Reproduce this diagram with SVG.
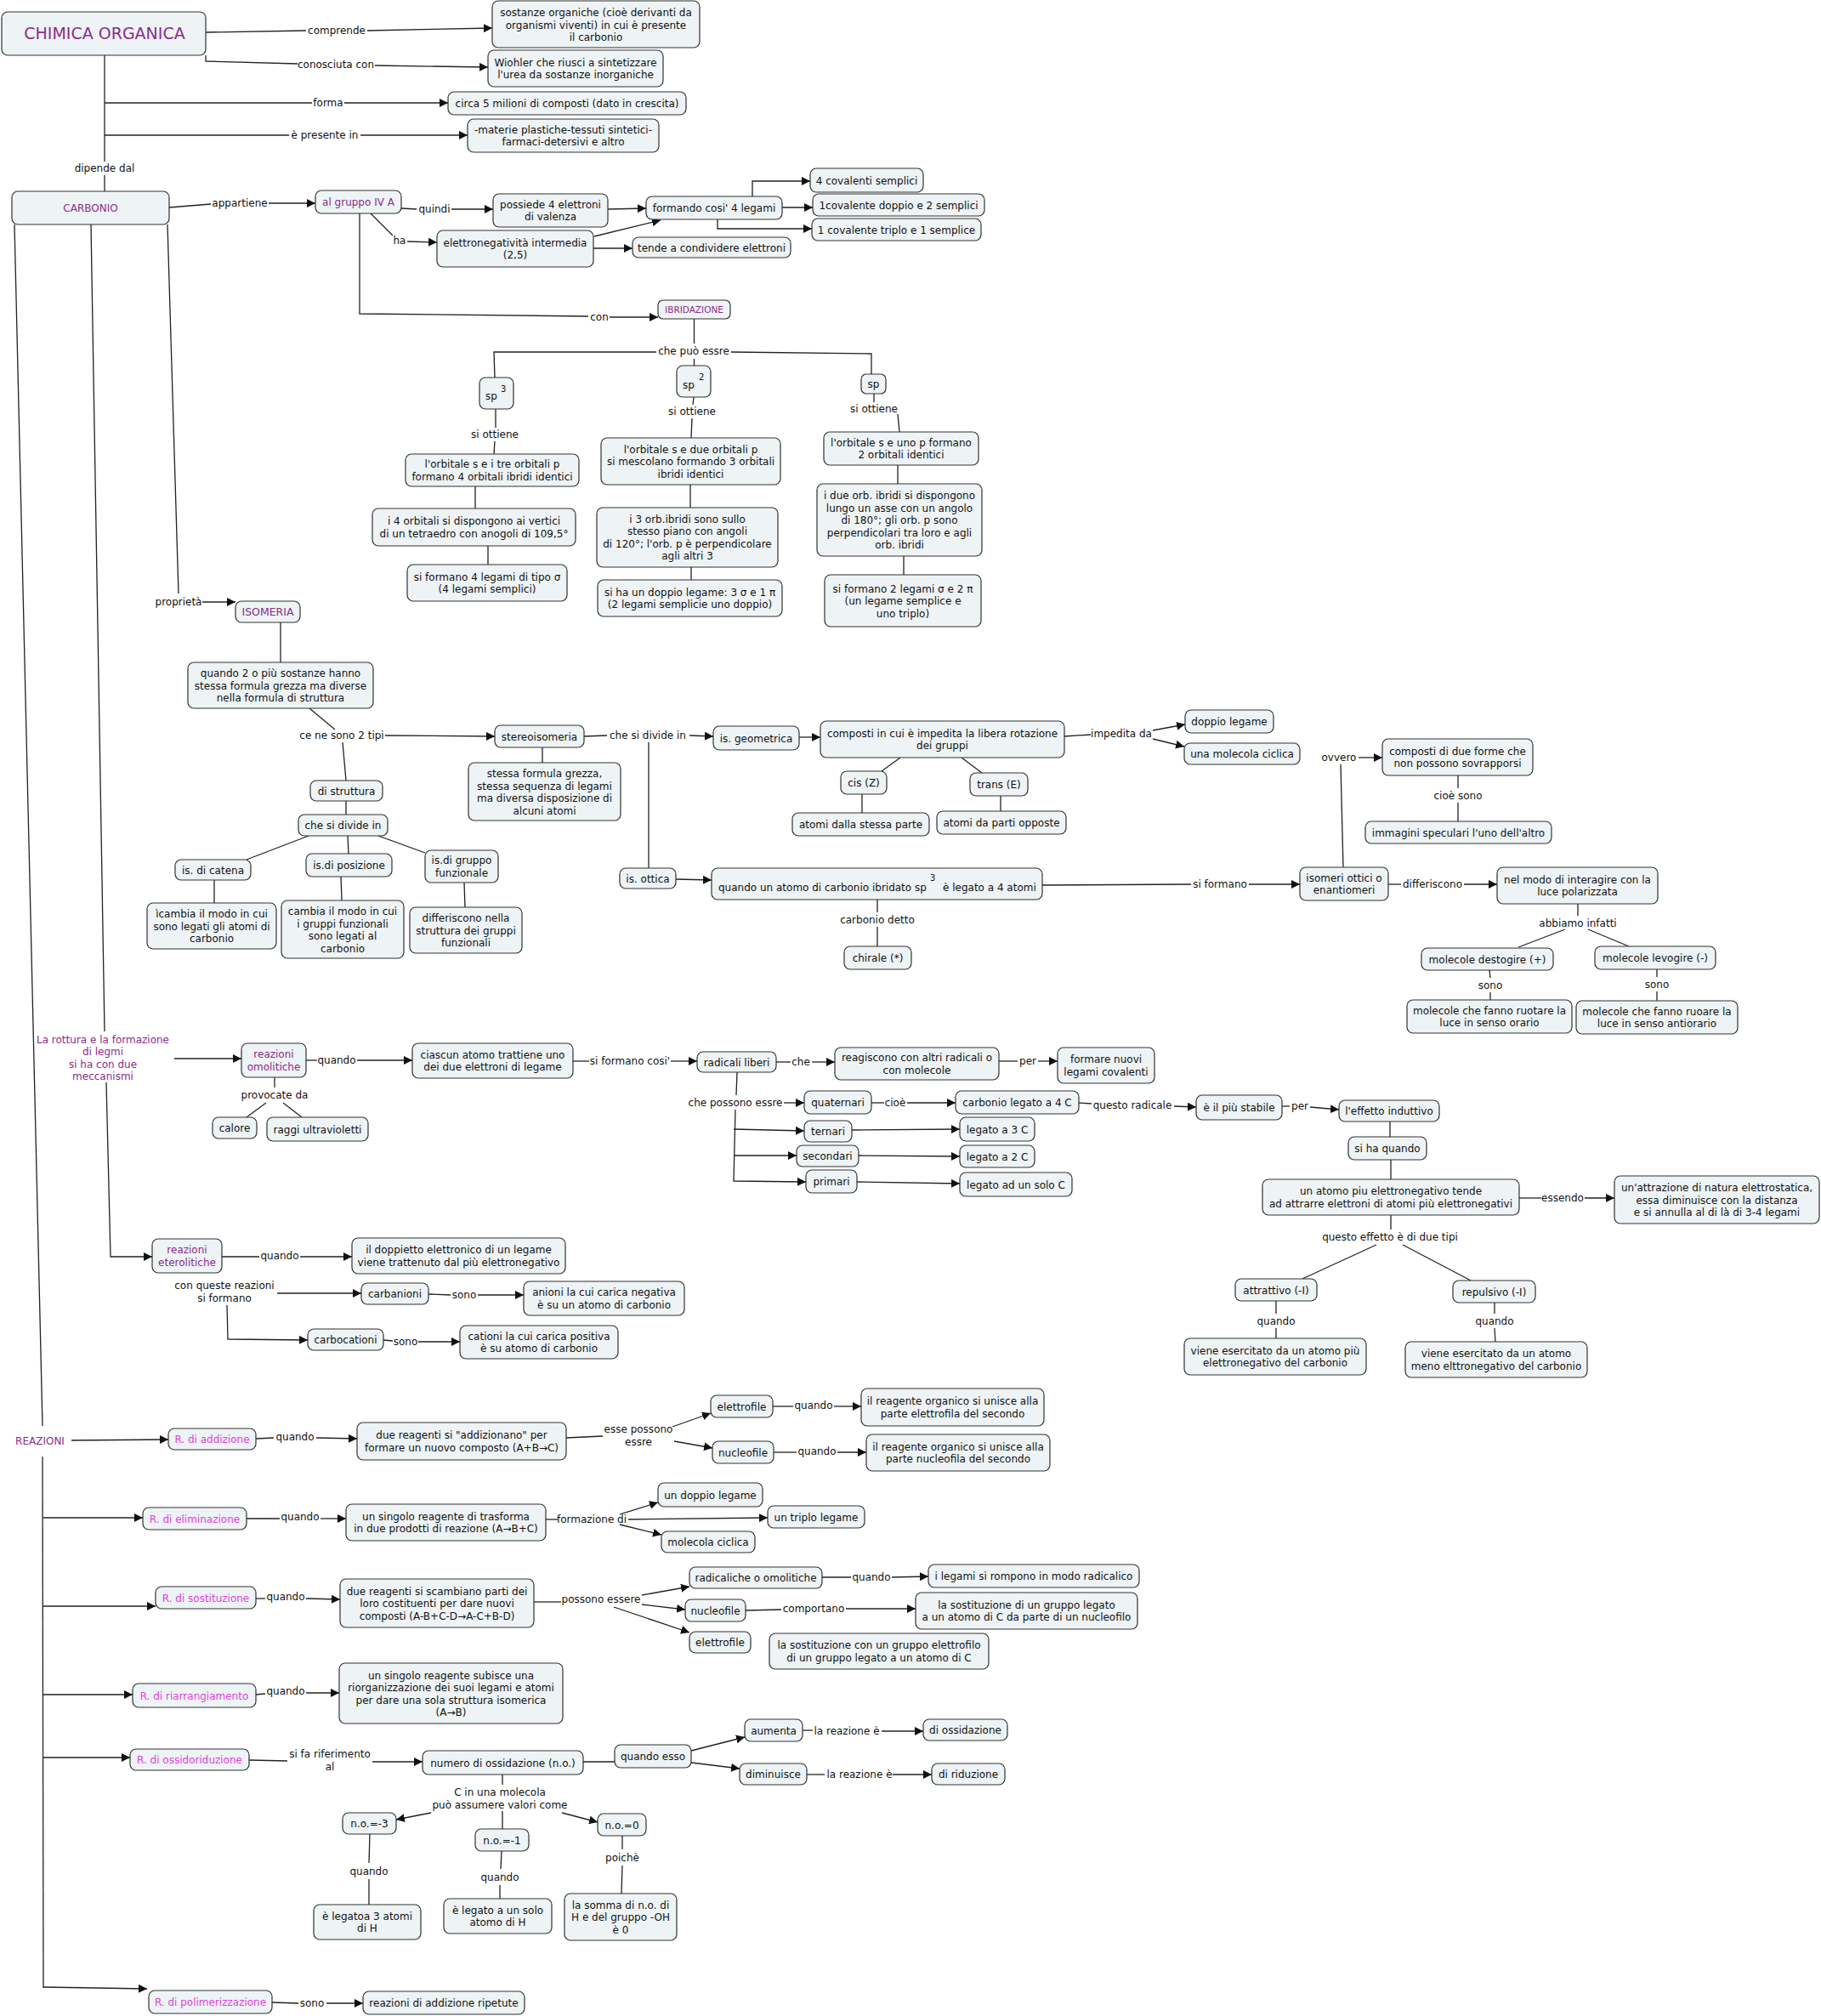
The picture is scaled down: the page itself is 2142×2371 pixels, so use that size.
<svg xmlns="http://www.w3.org/2000/svg" width="2142" height="2371" viewBox="0 0 2142 2371">
<defs>
<marker id="ah" markerWidth="10" markerHeight="10" viewBox="0 0 10 10" refX="10" refY="5" orient="auto" markerUnits="userSpaceOnUse"><path d="M0,0 L10,5 L0,10 z" fill="#111"/></marker>
</defs>
<style>
.n rect{fill:#eef3f5;stroke:#333;stroke-width:1.2}
text{font-family:"DejaVu Sans",Verdana,sans-serif;font-size:12px;fill:#111;text-anchor:middle}
.p{fill:#8b2c8b}
.m{fill:#e23ee2}
.s{font-size:10px;text-anchor:start}
.st{text-anchor:start}
#connectors path{fill:none;stroke:#222;stroke-width:1.3}
#connectors path.a{marker-end:url(#ah)}
</style>
<rect width="2142" height="2371" fill="#fff"/>
<g id="connectors">
<path d="M242,38 L360,36"/><path class="a" d="M432,36 L579,33"/><text x="396" y="40">comprende</text>
<path d="M242,65 L242,72 L350,75"/><path class="a" d="M441,77 L574,79"/><text x="395" y="80">conosciuta con</text>
<path d="M123,121 L367,121"/><path class="a" d="M405,121 L527,121"/><text x="386" y="125">forma</text>
<path d="M123,159 L340,159"/><path class="a" d="M424,159 L550,159"/><text x="382" y="163">è presente in</text>
<path d="M123,65 L123,190"/><path d="M123,206 L123,225"/><text x="123" y="202">dipende dal</text>
<path d="M199,244 L248,240"/><path class="a" d="M316,239 L371,239"/><text x="282" y="243">appartiene</text>
<path d="M472,245 L490,246"/><path class="a" d="M531,246 L580,246"/><text x="511" y="250">quindi</text>
<path class="a" d="M715,246 L760,245"/>
<path class="a" d="M885,231 L885,213 L953,213"/>
<path class="a" d="M920,244 L956,244"/>
<path class="a" d="M844,258 L844,269 L955,269"/>
<path d="M436,251 L462,277"/><path class="a" d="M479,284 L514,285"/><text x="470" y="287">ha</text>
<path class="a" d="M699,278 L777,259"/>
<path class="a" d="M698,292 L744,292"/>
<path d="M423,251 L423,369 L692,372"/><path class="a" d="M717,373 L774,373"/><text x="705" y="377">con</text>
<path d="M816.5,375 L816.5,404"/><path d="M772,414 L581,414 L582,444"/><path d="M860,414 L1025,416 L1025,440"/><path d="M816.5,422 L816.5,430"/><text x="816" y="417">che può essre</text>
<path d="M583,481 L583,503"/><path d="M582,519 L581,534"/><text x="582" y="515">si ottiene</text>
<path d="M559,572 L559,598"/>
<path d="M574,642 L574,664"/>
<path d="M816,467 L815,476"/><path d="M814,492 L813,515"/><text x="814" y="488">si ottiene</text>
<path d="M812,570 L812,597"/>
<path d="M813,667 L813,682"/>
<path d="M1028,463 L1028,473"/><path d="M1056,487 L1058,508"/><text x="1028" y="485">si ottiene</text>
<path d="M1056,547 L1056,569"/>
<path d="M1063,654 L1063,676"/>
<path d="M197,264 L210,698"/><path class="a" d="M238,708 L277,708"/><text x="210" y="712">proprietà</text>
<path d="M330,732 L330,779"/>
<path d="M364,833 L394,858"/><path class="a" d="M453,865 L582,866"/><path d="M403,873 L407,918"/><text x="402" y="869">ce ne sono 2 tipi</text>
<path d="M638,879 L638,897"/>
<path d="M407,942 L407,958"/>
<path d="M363,983 L290,1011"/><path d="M409,983 L410,1004"/><path d="M445,983 L500,1003"/>
<path d="M252,1035 L252,1062"/><path d="M401,1031 L402,1059"/><path d="M546,1038 L547,1067"/>
<path d="M687,866 L714,865"/><path class="a" d="M811,865 L839,866"/><path d="M763,873 L763,1021"/><text x="762" y="869">che si divide in</text>
<path class="a" d="M940,867 L965,867"/>
<path d="M1252,866 L1283,864"/><path class="a" d="M1356,859 L1394,852"/><path class="a" d="M1356,869 L1393,878"/><text x="1319" y="867">impedita da</text>
<path d="M1059,891 L1037,907"/><path d="M1131,891 L1155,909"/>
<path d="M1014,934 L1014,956"/><path d="M1177,936 L1177,954"/>
<path class="a" d="M795,1034 L837,1035"/>
<path d="M1226,1041 L1401,1040"/><path class="a" d="M1469,1040 L1529,1040"/><text x="1435" y="1044">si formano</text>
<path d="M1032,1058 L1032,1073"/><path d="M1032,1090 L1032,1113"/><text x="1032" y="1086">carbonio detto</text>
<path d="M1580,1020 L1577,899"/><path class="a" d="M1598,891 L1626,891"/><text x="1575" y="895">ovvero</text>
<path d="M1715,912 L1715,927"/><path d="M1715,944 L1715,966"/><text x="1715" y="940">cioè sono</text>
<path d="M1633,1040 L1648,1040"/><path class="a" d="M1722,1040 L1761,1040"/><text x="1685" y="1044">differiscono</text>
<path d="M1856,1063 L1856,1077"/><path d="M1841,1093 L1786,1114"/><path d="M1868,1093 L1916,1113"/><text x="1856" y="1090">abbiamo infatti</text>
<path d="M1752,1141 L1753,1150"/><path d="M1753,1167 L1753,1176"/><text x="1753" y="1163">sono</text>
<path d="M1949,1140 L1949,1149"/><path d="M1949,1166 L1949,1177"/><text x="1949" y="1162">sono</text>
<path d="M107,264 L123,1213"/>
<path class="a" d="M205,1245 L284,1245"/>
<path class="a" d="M125,1273 L130,1478 L179,1478"/>
<path d="M360,1247 L373,1247"/><path class="a" d="M420,1247 L485,1247"/><text x="396" y="1251">quando</text>
<path d="M674,1248 L693,1248"/><path class="a" d="M789,1248 L820,1248"/><text x="741" y="1252">si formano cosi'</text>
<path d="M913,1249 L930,1249"/><path class="a" d="M955,1249 L982,1249"/><text x="942" y="1253">che</text>
<path d="M1175,1248 L1197,1248"/><path class="a" d="M1221,1248 L1244,1248"/><text x="1209" y="1252">per</text>
<path d="M323,1267 L323,1279"/><path d="M313,1297 L290,1314"/><path d="M333,1297 L355,1314"/><text x="323" y="1292">provocate da</text>
<path d="M867,1261 L866,1288"/><path class="a" d="M922,1297 L946,1297"/><path class="a" d="M865,1305 L863,1389 L948,1390"/><path class="a" d="M863,1328 L946,1330"/><path class="a" d="M863,1359 L937,1359"/><text x="865" y="1301">che possono essre</text>
<path d="M1025,1297 L1040,1297"/><path class="a" d="M1067,1297 L1124,1297"/><text x="1053" y="1301">cioè</text>
<path d="M1269,1297 L1284,1298"/><path class="a" d="M1381,1301 L1407,1302"/><text x="1332" y="1304">questo radicale</text>
<path class="a" d="M1002,1329 L1129,1328"/>
<path class="a" d="M1010,1359 L1129,1360"/>
<path class="a" d="M1008,1390 L1129,1392"/>
<path d="M1508,1301 L1517,1301"/><path class="a" d="M1541,1302 L1575,1305"/><text x="1529" y="1305">per</text>
<path d="M1635,1319 L1635,1337"/>
<path d="M1636,1364 L1636,1387"/>
<path d="M1787,1409 L1813,1409"/><path class="a" d="M1864,1409 L1899,1409"/><text x="1838" y="1413">essendo</text>
<path d="M1636,1429 L1636,1446"/><path d="M1619,1464 L1532,1504"/><path d="M1650,1464 L1730,1506"/><text x="1635" y="1459">questo effetto è di due tipi</text>
<path d="M1501,1530 L1501,1545"/><path d="M1501,1562 L1501,1574"/><text x="1501" y="1558">quando</text>
<path d="M1758,1532 L1758,1545"/><path d="M1758,1562 L1759,1578"/><text x="1758" y="1558">quando</text>
<path d="M261,1478 L305,1478"/><path class="a" d="M353,1478 L414,1478"/><text x="329" y="1481">quando</text>
<path class="a" d="M326,1521 L425,1521"/><path class="a" d="M267,1535 L268,1575 L362,1576"/><text x="264" y="1516">con queste reazioni</text><text x="264" y="1531">si formano</text>
<path d="M504,1522 L530,1523"/><path class="a" d="M562,1523 L616,1523"/><text x="546" y="1527">sono</text>
<path d="M451,1576 L462,1577"/><path class="a" d="M492,1578 L541,1578"/><text x="477" y="1582">sono</text>
<path d="M17,264 L50,1677"/>
<path d="M50,1713 L51,2338"/>
<path class="a" d="M84,1694 L198,1693"/>
<path class="a" d="M51,1785 L168,1785"/>
<path class="a" d="M51,1889 L183,1889"/>
<path class="a" d="M51,1993 L156,1993"/>
<path class="a" d="M51,2067 L153,2067"/>
<path class="a" d="M51,2337 L173,2339"/>
<path d="M301,1692 L322,1691"/><path class="a" d="M372,1691 L420,1692"/><text x="347" y="1694">quando</text>
<path d="M666,1691 L709,1689"/><path class="a" d="M791,1678 L836,1662"/><path class="a" d="M793,1695 L838,1703"/><text x="751" y="1685">esse possono</text><text x="751" y="1700">essre</text>
<path d="M909,1654 L933,1654"/><path class="a" d="M981,1654 L1013,1654"/><text x="957" y="1657">quando</text>
<path d="M910,1708 L937,1708"/><path class="a" d="M985,1708 L1019,1708"/><text x="961" y="1711">quando</text>
<path d="M290,1786 L329,1786"/><path class="a" d="M377,1786 L407,1786"/><text x="353" y="1788">quando</text>
<path d="M642,1787 L656,1787"/><path class="a" d="M729,1781 L774,1767"/><path class="a" d="M739,1787 L903,1785"/><path class="a" d="M729,1793 L778,1805"/><text x="696" y="1791">formazione di</text>
<path d="M301,1880 L312,1880"/><path class="a" d="M360,1880 L400,1881"/><text x="336" y="1882">quando</text>
<path d="M628,1884 L660,1884"/><path class="a" d="M755,1876 L811,1866"/><path class="a" d="M755,1887 L806,1893"/><path class="a" d="M722,1890 L811,1920"/><text x="707" y="1885">possono essere</text>
<path d="M967,1855 L1001,1855"/><path class="a" d="M1049,1855 L1092,1854"/><text x="1025" y="1859">quando</text>
<path d="M877,1894 L919,1893"/><path class="a" d="M995,1892 L1077,1892"/><text x="957" y="1896">comportano</text>
<path d="M301,1993 L312,1992"/><path class="a" d="M360,1991 L399,1991"/><text x="336" y="1993">quando</text>
<path d="M293,2070 L338,2071"/><path class="a" d="M438,2072 L497,2072"/><text x="388" y="2067">si fa riferimento</text><text x="388" y="2082">al</text>
<path d="M686,2072 L723,2072"/>
<path class="a" d="M813,2059 L876,2043"/>
<path class="a" d="M813,2073 L870,2080"/>
<path d="M944,2035 L956,2035"/><path class="a" d="M1037,2036 L1086,2036"/><text x="996" y="2040">la reazione è</text>
<path d="M949,2087 L970,2087"/><path class="a" d="M1050,2087 L1096,2087"/><text x="1011" y="2091">la reazione è</text>
<path d="M591,2087 L591,2099"/><path class="a" d="M507,2132 L466,2140"/><path d="M591,2130 L591,2151"/><path class="a" d="M661,2132 L703,2143"/><text x="588" y="2112">C in una molecola</text><text x="588" y="2127">può assumere valori come</text>
<path d="M435,2157 L434,2191"/><path d="M434,2210 L434,2240"/><text x="434" y="2205">quando</text>
<path d="M590,2177 L589,2198"/><path d="M588,2217 L588,2233"/><text x="588" y="2212">quando</text>
<path d="M732,2159 L732,2175"/><path d="M732,2194 L731,2227"/><text x="732" y="2189">poichè</text>
<path d="M320,2355 L351,2356"/><path class="a" d="M384,2356 L427,2356"/><text x="367" y="2360">sono</text>
</g>
<g id="n-chimica" class="n"><rect x="2" y="14" width="240" height="51" rx="7"/><text class="p" x="123" y="46" style="font-size:19px">CHIMICA ORGANICA</text></g>
<g id="n-sostanze" class="n"><rect x="579" y="1" width="244" height="55" rx="7"/><text x="701"><tspan x="701" y="19">sostanze organiche (cioè derivanti da</tspan><tspan x="701" y="33.5">organismi viventi) in cui è presente</tspan><tspan x="701" y="48">il carbonio</tspan></text></g>
<g id="n-wiohler" class="n"><rect x="574" y="59" width="206" height="43" rx="7"/><text><tspan x="677" y="77.5">Wiohler che riusci a sintetizzare</tspan><tspan x="677" y="92">l'urea da sostanze inorganiche</tspan></text></g>
<g id="n-circa" class="n"><rect x="527" y="108" width="280" height="27" rx="7"/><text x="667" y="126">circa 5 milioni di composti (dato in crescita)</text></g>
<g id="n-materie" class="n"><rect x="550" y="140" width="225" height="39" rx="7"/><text><tspan x="662.5" y="156.5">-materie plastiche-tessuti sintetici-</tspan><tspan x="662.5" y="171">farmaci-detersivi e altro</tspan></text></g>
<g id="n-carbonio" class="n"><rect x="14" y="225" width="185" height="39" rx="7"/><text class="p" x="106.5" y="249">CARBONIO</text></g>
<g id="n-gruppo" class="n"><rect x="371" y="224" width="101" height="27" rx="7"/><text class="p" x="421.5" y="242">al gruppo IV A</text></g>
<g id="n-possiede" class="n"><rect x="580" y="228" width="135" height="39" rx="7"/><text><tspan x="647.5" y="244.5">possiede 4 elettroni</tspan><tspan x="647.5" y="259">di valenza</tspan></text></g>
<g id="n-formando" class="n"><rect x="760" y="231" width="160" height="27" rx="7"/><text x="840" y="249">formando cosi' 4 legami</text></g>
<g id="n-4cov" class="n"><rect x="953" y="198" width="133" height="28" rx="7"/><text x="1019.5" y="216.5">4 covalenti semplici</text></g>
<g id="n-doppio" class="n"><rect x="956" y="228" width="202" height="26" rx="7"/><text x="1057" y="245.5">1covalente doppio e 2 semplici</text></g>
<g id="n-triplo" class="n"><rect x="955" y="257" width="199" height="26" rx="7"/><text x="1054.5" y="274.5">1 covalente triplo e 1 semplice</text></g>
<g id="n-elettroneg" class="n"><rect x="514" y="271" width="184" height="43" rx="7"/><text><tspan x="606" y="289.5">elettronegatività intermedia</tspan><tspan x="606" y="304">(2,5)</tspan></text></g>
<g id="n-tende" class="n"><rect x="744" y="279" width="186" height="24" rx="7"/><text x="837" y="295.5">tende a condividere elettroni</text></g>
<g id="n-ibridazione" class="n"><rect x="774" y="353" width="85" height="22" rx="6"/><text class="p" x="816.5" y="368" style="font-size:10.5px">IBRIDAZIONE</text></g>
<g id="n-sp3" class="n"><rect x="564" y="444" width="40" height="37" rx="7"/><text x="578" y="470">sp</text><text class="s" x="589" y="461">3</text></g>
<g id="n-sp2" class="n"><rect x="796" y="430" width="40" height="37" rx="7"/><text x="810" y="457">sp</text><text class="s" x="822" y="447">2</text></g>
<g id="n-sp" class="n"><rect x="1013" y="440" width="29" height="23" rx="6"/><text x="1027.5" y="456">sp</text></g>
<g id="n-sp3-1" class="n"><rect x="477" y="534" width="204" height="38" rx="7"/><text><tspan x="579" y="550">l'orbitale s e i tre orbitali p</tspan><tspan x="579" y="564.5">formano 4 orbitali ibridi identici</tspan></text></g>
<g id="n-sp3-2" class="n"><rect x="438" y="598" width="239" height="44" rx="7"/><text><tspan x="557.5" y="617">i 4 orbitali si dispongono ai vertici</tspan><tspan x="557.5" y="631.5">di un tetraedro con anogoli di 109,5°</tspan></text></g>
<g id="n-sp3-3" class="n"><rect x="479" y="664" width="188" height="43" rx="7"/><text><tspan x="573" y="682.5">si formano 4 legami di tipo σ</tspan><tspan x="573" y="697">(4 legami semplici)</tspan></text></g>
<g id="n-sp2-1" class="n"><rect x="707" y="515" width="211" height="55" rx="7"/><text><tspan x="812.5" y="532.5">l'orbitale s e due orbitali p</tspan><tspan x="812.5" y="547">si mescolano formando 3 orbitali</tspan><tspan x="812.5" y="561.5">ibridi identici</tspan></text></g>
<g id="n-sp2-2" class="n"><rect x="702" y="597" width="213" height="70" rx="7"/><text><tspan x="808.5" y="614.5">i 3 orb.ibridi sono sullo</tspan><tspan x="808.5" y="629">stesso piano con angoli</tspan><tspan x="808.5" y="643.5">di 120°; l'orb. p è perpendicolare</tspan><tspan x="808.5" y="658">agli altri 3</tspan></text></g>
<g id="n-sp2-3" class="n"><rect x="703" y="682" width="217" height="43" rx="7"/><text><tspan x="811.5" y="700.5">si ha un doppio legame: 3 σ e 1 π</tspan><tspan x="811.5" y="715">(2 legami semplicie uno doppio)</tspan></text></g>
<g id="n-sp-1" class="n"><rect x="969" y="508" width="182" height="39" rx="7"/><text><tspan x="1060" y="524.5">l'orbitale s e uno p formano</tspan><tspan x="1060" y="539">2 orbitali identici</tspan></text></g>
<g id="n-sp-2" class="n"><rect x="961" y="569" width="194" height="85" rx="7"/><text><tspan x="1058" y="587">i due orb. ibridi si dispongono</tspan><tspan x="1058" y="601.5">lungo un asse con un angolo</tspan><tspan x="1058" y="616">di 180°; gli orb. p sono</tspan><tspan x="1058" y="630.5">perpendicolari tra loro e agli</tspan><tspan x="1058" y="645">orb. ibridi</tspan></text></g>
<g id="n-sp-3" class="n"><rect x="970" y="676" width="184" height="61" rx="7"/><text><tspan x="1062" y="696.5">si formano 2 legami σ e 2 π</tspan><tspan x="1062" y="711">(un legame semplice e</tspan><tspan x="1062" y="725.5">uno triplo)</tspan></text></g>
<g id="n-isomeria" class="n"><rect x="277" y="707" width="76" height="25" rx="7"/><text class="p" x="315" y="724" style="font-size:12.5px">ISOMERIA</text></g>
<g id="n-quando2" class="n"><rect x="221" y="779" width="218" height="54" rx="7"/><text><tspan x="330" y="796">quando 2 o più sostanze hanno</tspan><tspan x="330" y="810.5">stessa formula grezza ma diverse</tspan><tspan x="330" y="825">nella formula di struttura</tspan></text></g>
<g id="n-stereo" class="n"><rect x="582" y="853" width="105" height="26" rx="7"/><text x="634.5" y="870.5">stereoisomeria</text></g>
<g id="n-stereo-def" class="n"><rect x="551" y="897" width="179" height="68" rx="7"/><text><tspan x="640.5" y="914">stessa formula grezza,</tspan><tspan x="640.5" y="928.5">stessa sequenza di legami</tspan><tspan x="640.5" y="943">ma diversa disposizione di</tspan><tspan x="640.5" y="957.5">alcuni atomi</tspan></text></g>
<g id="n-distruttura" class="n"><rect x="365" y="918" width="85" height="24" rx="7"/><text x="407.5" y="934.5">di struttura</text></g>
<g id="n-chesidivide" class="n"><rect x="351" y="958" width="105" height="25" rx="7"/><text x="403.5" y="975">che si divide in</text></g>
<g id="n-catena" class="n"><rect x="206" y="1011" width="89" height="24" rx="7"/><text x="250.5" y="1027.5">is. di catena</text></g>
<g id="n-posizione" class="n"><rect x="360" y="1004" width="101" height="27" rx="7"/><text x="410.5" y="1022">is.di posizione</text></g>
<g id="n-gruppofunz" class="n"><rect x="500" y="1000" width="86" height="38" rx="7"/><text><tspan x="543" y="1016">is.di gruppo</tspan><tspan x="543" y="1030.5">funzionale</tspan></text></g>
<g id="n-catena-def" class="n"><rect x="173" y="1062" width="152" height="54" rx="7"/><text><tspan x="249" y="1079">ìcambia il modo in cui</tspan><tspan x="249" y="1093.5">sono legati gli atomi di</tspan><tspan x="249" y="1108">carbonio</tspan></text></g>
<g id="n-posizione-def" class="n"><rect x="331" y="1059" width="144" height="68" rx="7"/><text><tspan x="403" y="1076">cambia il modo in cui</tspan><tspan x="403" y="1090.5">i gruppi funzionali</tspan><tspan x="403" y="1105">sono legati al</tspan><tspan x="403" y="1119.5">carbonio</tspan></text></g>
<g id="n-gruppofunz-def" class="n"><rect x="482" y="1067" width="132" height="54" rx="7"/><text><tspan x="548" y="1084">differiscono nella</tspan><tspan x="548" y="1098.5">struttura dei gruppi</tspan><tspan x="548" y="1113">funzionali</tspan></text></g>
<g id="n-isgeo" class="n"><rect x="839" y="854" width="101" height="28" rx="7"/><text x="889.5" y="872.5">is. geometrica</text></g>
<g id="n-composti" class="n"><rect x="965" y="848" width="287" height="43" rx="7"/><text><tspan x="1108.5" y="866.5">composti in cui è impedita la libera rotazione</tspan><tspan x="1108.5" y="881">dei gruppi</tspan></text></g>
<g id="n-doppiolegame" class="n"><rect x="1394" y="835" width="104" height="27" rx="7"/><text x="1446" y="853">doppio legame</text></g>
<g id="n-molciclica" class="n"><rect x="1393" y="874" width="136" height="25" rx="7"/><text x="1461" y="891">una molecola ciclica</text></g>
<g id="n-cis" class="n"><rect x="989" y="907" width="54" height="27" rx="7"/><text x="1016" y="925">cis (Z)</text></g>
<g id="n-trans" class="n"><rect x="1141" y="909" width="68" height="27" rx="7"/><text x="1175" y="927">trans (E)</text></g>
<g id="n-stessaparte" class="n"><rect x="932" y="956" width="161" height="27" rx="7"/><text x="1012.5" y="974">atomi dalla stessa parte</text></g>
<g id="n-partiopposte" class="n"><rect x="1102" y="954" width="152" height="27" rx="7"/><text x="1178" y="972">atomi da parti opposte</text></g>
<g id="n-isottica" class="n"><rect x="729" y="1021" width="66" height="24" rx="7"/><text x="762" y="1037.5">is. ottica</text></g>
<g id="n-quandoatomo" class="n"><rect x="837" y="1021" width="389" height="37" rx="7"/><text class="st" x="845" y="1047.5">quando un atomo di carbonio ibridato sp</text><text class="s" x="1094" y="1035.5">3</text><text class="st" x="1109" y="1047.5">è legato a 4 atomi</text></g>
<g id="n-chirale" class="n"><rect x="993" y="1113" width="79" height="27" rx="7"/><text x="1032.5" y="1131">chirale (*)</text></g>
<g id="n-duforme" class="n"><rect x="1626" y="869" width="177" height="43" rx="7"/><text><tspan x="1714.5" y="887.5">composti di due forme che</tspan><tspan x="1714.5" y="902">non possono sovrapporsi</tspan></text></g>
<g id="n-immagini" class="n"><rect x="1606" y="966" width="219" height="26" rx="7"/><text x="1715.5" y="983.5">immagini speculari l'uno dell'altro</text></g>
<g id="n-isomeri" class="n"><rect x="1529" y="1020" width="104" height="39" rx="7"/><text><tspan x="1581" y="1036.5">isomeri ottici o</tspan><tspan x="1581" y="1051">enantiomeri</tspan></text></g>
<g id="n-nelmodo" class="n"><rect x="1761" y="1020" width="189" height="43" rx="7"/><text><tspan x="1855.5" y="1038.5">nel modo di interagire con la</tspan><tspan x="1855.5" y="1053">luce polarizzata</tspan></text></g>
<g id="n-destogire" class="n"><rect x="1672" y="1115" width="155" height="26" rx="7"/><text x="1749.5" y="1132.5">molecole destogire (+)</text></g>
<g id="n-levogire" class="n"><rect x="1876" y="1113" width="142" height="27" rx="7"/><text x="1947" y="1131">molecole levogire (-)</text></g>
<g id="n-orario" class="n"><rect x="1655" y="1176" width="194" height="39" rx="7"/><text><tspan x="1752" y="1192.5">molecole che fanno ruotare la</tspan><tspan x="1752" y="1207">luce in senso orario</tspan></text></g>
<g id="n-antiorario" class="n"><rect x="1854" y="1177" width="190" height="39" rx="7"/><text><tspan x="1949" y="1193.5">molecole che fanno ruoare la</tspan><tspan x="1949" y="1208">luce in senso antiorario</tspan></text></g>
<g id="n-rottura"><text class="p"><tspan x="121" y="1226.5">La rottura e la formazione</tspan><tspan x="121" y="1241">di legmi</tspan><tspan x="121" y="1255.5">si ha con due</tspan><tspan x="121" y="1270">meccanismi</tspan></text></g>
<g id="n-omolitiche" class="n"><rect x="284" y="1227" width="76" height="40" rx="7"/><text class="p"><tspan x="322" y="1244">reazioni</tspan><tspan x="322" y="1258.5">omolitiche</tspan></text></g>
<g id="n-ciascun" class="n"><rect x="485" y="1227" width="189" height="41" rx="7"/><text><tspan x="579.5" y="1244.5">ciascun atomo trattiene uno</tspan><tspan x="579.5" y="1259">dei due elettroni di legame</tspan></text></g>
<g id="n-radicali" class="n"><rect x="820" y="1237" width="93" height="24" rx="7"/><text x="866.5" y="1253.5">radicali liberi</text></g>
<g id="n-reagiscono" class="n"><rect x="982" y="1232" width="193" height="38" rx="7"/><text><tspan x="1078.5" y="1248">reagiscono con altri radicali o</tspan><tspan x="1078.5" y="1262.5">con molecole</tspan></text></g>
<g id="n-formarenuovi" class="n"><rect x="1244" y="1232" width="114" height="42" rx="7"/><text><tspan x="1301" y="1250">formare nuovi</tspan><tspan x="1301" y="1264.5">legami covalenti</tspan></text></g>
<g id="n-calore" class="n"><rect x="250" y="1314" width="52" height="25" rx="7"/><text x="276" y="1331">calore</text></g>
<g id="n-raggi" class="n"><rect x="314" y="1314" width="119" height="28" rx="7"/><text x="373.5" y="1332.5">raggi ultravioletti</text></g>
<g id="n-quaternari" class="n"><rect x="946" y="1283" width="79" height="27" rx="7"/><text x="985.5" y="1301">quaternari</text></g>
<g id="n-carb4c" class="n"><rect x="1124" y="1283" width="145" height="27" rx="7"/><text x="1196.5" y="1301">carbonio legato a 4 C</text></g>
<g id="n-ternari" class="n"><rect x="946" y="1318" width="56" height="25" rx="7"/><text x="974" y="1335">ternari</text></g>
<g id="n-leg3c" class="n"><rect x="1129" y="1314" width="88" height="28" rx="7"/><text x="1173" y="1332.5">legato a 3 C</text></g>
<g id="n-secondari" class="n"><rect x="937" y="1347" width="73" height="25" rx="7"/><text x="973.5" y="1364">secondari</text></g>
<g id="n-leg2c" class="n"><rect x="1129" y="1347" width="88" height="26" rx="7"/><text x="1173" y="1364.5">legato a 2 C</text></g>
<g id="n-primari" class="n"><rect x="948" y="1376" width="60" height="27" rx="7"/><text x="978" y="1394">primari</text></g>
<g id="n-leg1c" class="n"><rect x="1129" y="1379" width="132" height="28" rx="7"/><text x="1195" y="1397.5">legato ad un solo C</text></g>
<g id="n-piustabile" class="n"><rect x="1407" y="1288" width="101" height="29" rx="7"/><text x="1457.5" y="1307">è il più stabile</text></g>
<g id="n-effetto" class="n"><rect x="1575" y="1294" width="118" height="25" rx="7"/><text x="1634" y="1311">l'effetto induttivo</text></g>
<g id="n-siha" class="n"><rect x="1586" y="1337" width="92" height="27" rx="7"/><text x="1632" y="1355">si ha quando</text></g>
<g id="n-unatomo" class="n"><rect x="1485" y="1387" width="302" height="42" rx="7"/><text><tspan x="1636" y="1405">un atomo piu elettronegativo tende</tspan><tspan x="1636" y="1419.5">ad attrarre elettroni di atomi più elettronegativi</tspan></text></g>
<g id="n-attrazione" class="n"><rect x="1899" y="1383" width="241" height="56" rx="7"/><text><tspan x="2019.5" y="1401">un'attrazione di natura elettrostatica,</tspan><tspan x="2019.5" y="1415.5">essa diminuisce con la distanza</tspan><tspan x="2019.5" y="1430">e si annulla al di là di 3-4 legami</tspan></text></g>
<g id="n-attrattivo" class="n"><rect x="1453" y="1504" width="96" height="26" rx="7"/><text x="1501" y="1521.5">attrattivo (-I)</text></g>
<g id="n-repulsivo" class="n"><rect x="1709" y="1506" width="97" height="26" rx="7"/><text x="1757.5" y="1523.5">repulsivo (-I)</text></g>
<g id="n-vieneA" class="n"><rect x="1393" y="1574" width="214" height="43" rx="7"/><text><tspan x="1500" y="1592.5">viene esercitato da un atomo più</tspan><tspan x="1500" y="1607">elettronegativo del carbonio</tspan></text></g>
<g id="n-vieneR" class="n"><rect x="1653" y="1578" width="214" height="42" rx="7"/><text><tspan x="1760" y="1596">viene esercitato da un atomo</tspan><tspan x="1760" y="1610.5">meno elttronegativo del carbonio</tspan></text></g>
<g id="n-eterolitiche" class="n"><rect x="179" y="1457" width="82" height="40" rx="7"/><text class="p"><tspan x="220" y="1474">reazioni</tspan><tspan x="220" y="1488.5">eterolitiche</tspan></text></g>
<g id="n-doppietto" class="n"><rect x="414" y="1456" width="251" height="42" rx="7"/><text><tspan x="539.5" y="1474">il doppietto elettronico di un legame</tspan><tspan x="539.5" y="1488.5">viene trattenuto dal più elettronegativo</tspan></text></g>
<g id="n-carbanioni" class="n"><rect x="425" y="1509" width="79" height="25" rx="7"/><text x="464.5" y="1526">carbanioni</text></g>
<g id="n-anioni" class="n"><rect x="616" y="1507" width="189" height="40" rx="7"/><text><tspan x="710.5" y="1524">anioni la cui carica negativa</tspan><tspan x="710.5" y="1538.5">è su un atomo di carbonio</tspan></text></g>
<g id="n-carbocationi" class="n"><rect x="362" y="1563" width="89" height="25" rx="7"/><text x="406.5" y="1580">carbocationi</text></g>
<g id="n-cationi" class="n"><rect x="541" y="1559" width="186" height="39" rx="7"/><text><tspan x="634" y="1575.5">cationi la cui carica positiva</tspan><tspan x="634" y="1590">è su atomo di carbonio</tspan></text></g>
<g id="n-reazioni"><text class="p" x="47" y="1699">REAZIONI</text></g>
<g id="n-addizione" class="n"><rect x="198" y="1680" width="103" height="25" rx="7"/><text class="m" x="249.5" y="1697">R. di addizione</text></g>
<g id="n-dueaddiz" class="n"><rect x="420" y="1673" width="246" height="44" rx="7"/><text><tspan x="543" y="1692">due reagenti si "addizionano" per</tspan><tspan x="543" y="1706.5">formare un nuovo composto (A+B→C)</tspan></text></g>
<g id="n-elettrofileA" class="n"><rect x="836" y="1641" width="73" height="26" rx="7"/><text x="872.5" y="1658.5">elettrofile</text></g>
<g id="n-reagE" class="n"><rect x="1013" y="1633" width="215" height="44" rx="7"/><text><tspan x="1120.5" y="1652">il reagente organico si unisce alla</tspan><tspan x="1120.5" y="1666.5">parte elettrofila del secondo</tspan></text></g>
<g id="n-nucleofileA" class="n"><rect x="838" y="1695" width="72" height="26" rx="7"/><text x="874" y="1712.5">nucleofile</text></g>
<g id="n-reagN" class="n"><rect x="1019" y="1687" width="216" height="43" rx="7"/><text><tspan x="1127" y="1705.5">il reagente organico si unisce alla</tspan><tspan x="1127" y="1720">parte nucleofila del secondo</tspan></text></g>
<g id="n-eliminazione" class="n"><rect x="168" y="1773" width="122" height="26" rx="7"/><text class="m" x="229" y="1790.5">R. di eliminazione</text></g>
<g id="n-singolotras" class="n"><rect x="407" y="1769" width="235" height="43" rx="7"/><text><tspan x="524.5" y="1787.5">un singolo reagente di trasforma</tspan><tspan x="524.5" y="1802">in due prodotti di reazione (A→B+C)</tspan></text></g>
<g id="n-undoppio" class="n"><rect x="774" y="1744" width="123" height="28" rx="7"/><text x="835.5" y="1762.5">un doppio legame</text></g>
<g id="n-untriplo" class="n"><rect x="903" y="1771" width="114" height="26" rx="7"/><text x="960" y="1788.5">un triplo legame</text></g>
<g id="n-molecolaciclica" class="n"><rect x="778" y="1801" width="110" height="25" rx="7"/><text x="833" y="1818">molecola ciclica</text></g>
<g id="n-sostituzione" class="n"><rect x="183" y="1866" width="118" height="26" rx="7"/><text class="m" x="242" y="1883.5">R. di sostituzione</text></g>
<g id="n-duescamb" class="n"><rect x="400" y="1857" width="228" height="57" rx="7"/><text><tspan x="514" y="1875.5">due reagenti si scambiano parti dei</tspan><tspan x="514" y="1890">loro costituenti per dare nuovi</tspan><tspan x="514" y="1904.5">composti (A-B+C-D→A-C+B-D)</tspan></text></g>
<g id="n-radicaliche" class="n"><rect x="811" y="1843" width="156" height="25" rx="7"/><text x="889" y="1860">radicaliche o omolitiche</text></g>
<g id="n-ilegami" class="n"><rect x="1092" y="1840" width="248" height="27" rx="7"/><text x="1216" y="1858">i legami si rompono in modo radicalico</text></g>
<g id="n-nucleofileS" class="n"><rect x="806" y="1881" width="71" height="26" rx="7"/><text x="841.5" y="1898.5">nucleofile</text></g>
<g id="n-sostnucl" class="n"><rect x="1077" y="1873" width="261" height="43" rx="7"/><text><tspan x="1207.5" y="1891.5">la sostituzione di un gruppo legato</tspan><tspan x="1207.5" y="1906">a un atomo di C da parte di un nucleofilo</tspan></text></g>
<g id="n-elettrofileS" class="n"><rect x="811" y="1919" width="72" height="25" rx="7"/><text x="847" y="1936">elettrofile</text></g>
<g id="n-sostelettr" class="n"><rect x="905" y="1921" width="258" height="42" rx="7"/><text><tspan x="1034" y="1939">la sostituzione con un gruppo elettrofilo</tspan><tspan x="1034" y="1953.5">di un gruppo legato a un atomo di C</tspan></text></g>
<g id="n-riarrangiamento" class="n"><rect x="156" y="1980" width="145" height="28" rx="7"/><text class="m" x="228.5" y="1998.5">R. di riarrangiamento</text></g>
<g id="n-singolosub" class="n"><rect x="399" y="1956" width="263" height="71" rx="7"/><text><tspan x="530.5" y="1974.5">un singolo reagente subisce una</tspan><tspan x="530.5" y="1989">riorganizzazione dei suoi legami e atomi</tspan><tspan x="530.5" y="2003.5">per dare una sola struttura isomerica</tspan><tspan x="530.5" y="2018">(A→B)</tspan></text></g>
<g id="n-ossidoriduzione" class="n"><rect x="153" y="2057" width="140" height="25" rx="7"/><text class="m" x="223" y="2074">R. di ossidoriduzione</text></g>
<g id="n-numero" class="n"><rect x="497" y="2059" width="189" height="28" rx="7"/><text x="591.5" y="2077.5">numero di ossidazione (n.o.)</text></g>
<g id="n-quandoesso" class="n"><rect x="723" y="2052" width="90" height="27" rx="7"/><text x="768" y="2070">quando esso</text></g>
<g id="n-aumenta" class="n"><rect x="876" y="2022" width="68" height="26" rx="7"/><text x="910" y="2039.5">aumenta</text></g>
<g id="n-diossidazione" class="n"><rect x="1086" y="2022" width="99" height="25" rx="7"/><text x="1135.5" y="2039">di ossidazione</text></g>
<g id="n-diminuisce" class="n"><rect x="870" y="2074" width="79" height="25" rx="7"/><text x="909.5" y="2091">diminuisce</text></g>
<g id="n-diriduzione" class="n"><rect x="1096" y="2074" width="86" height="25" rx="7"/><text x="1139" y="2091">di riduzione</text></g>
<g id="n-no3" class="n"><rect x="403" y="2132" width="63" height="25" rx="7"/><text x="434.5" y="2149">n.o.=-3</text></g>
<g id="n-no1" class="n"><rect x="559" y="2151" width="63" height="26" rx="7"/><text x="590.5" y="2168.5">n.o.=-1</text></g>
<g id="n-no0" class="n"><rect x="703" y="2133" width="57" height="26" rx="7"/><text x="731.5" y="2150.5">n.o.=0</text></g>
<g id="n-legatoa3" class="n"><rect x="369" y="2240" width="126" height="41" rx="7"/><text><tspan x="432" y="2257.5">è legatoa 3 atomi</tspan><tspan x="432" y="2272">di H</tspan></text></g>
<g id="n-legatosolo" class="n"><rect x="522" y="2233" width="127" height="41" rx="7"/><text><tspan x="585.5" y="2250.5">è legato a un solo</tspan><tspan x="585.5" y="2265">atomo di H</tspan></text></g>
<g id="n-somma" class="n"><rect x="664" y="2227" width="132" height="55" rx="7"/><text><tspan x="730" y="2244.5">la somma di n.o. di</tspan><tspan x="730" y="2259">H e del gruppo -OH</tspan><tspan x="730" y="2273.5">è 0</tspan></text></g>
<g id="n-polimerizzazione" class="n"><rect x="175" y="2341" width="145" height="27" rx="7"/><text class="m" x="247.5" y="2359">R. di polimerizzazione</text></g>
<g id="n-ripetute" class="n"><rect x="427" y="2342" width="190" height="27" rx="7"/><text x="522" y="2360">reazioni di addizione ripetute</text></g>
</svg>
